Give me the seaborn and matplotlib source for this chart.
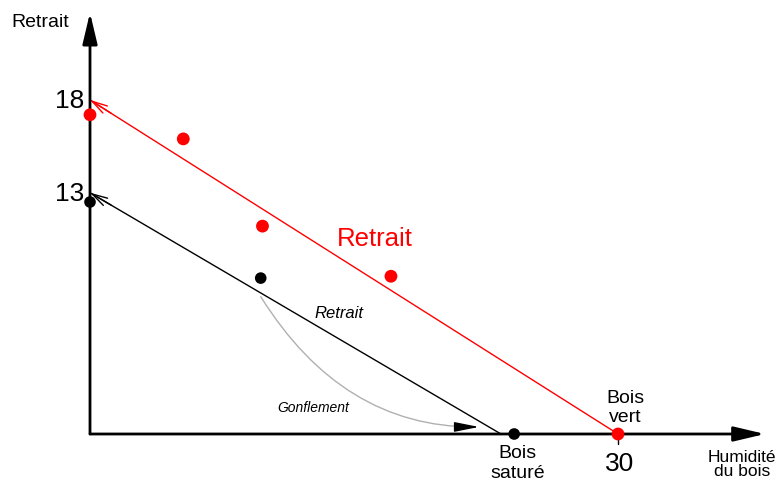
import matplotlib
matplotlib.use("Agg")
import matplotlib.pyplot as plt
import seaborn as sns
import pandas as pd

sns.set_theme(style="white")
plt.rcParams['font.family'] = ['Liberation Sans', 'DejaVu Sans']

# Data
red_x = [0, 5.3, 9.8, 17.1, 30]
red_y = [17.2, 15.9, 11.2, 8.5, 0]
black_x = [0, 9.7, 24.1]
black_y = [12.5, 8.4, 0]
red_line_x = [0, 30]
red_line_y = [18, 0]
black_line_x = [0, 23.35]
black_line_y = [13, 0]
ytick_vals = [18, 13]
xtick_vals = [30]

fig = plt.figure(figsize=(7.8, 4.81), dpi=100)
ax = fig.add_axes([0, 0, 1, 1])
ax.set_xlim(-90 / 17.6, 690 / 17.6)
ax.set_ylim(-46 / 18.56, 435 / 18.56)
ax.axis('off')

# Axes arrows
ax.annotate('', xy=(0, 22.7), xytext=(0, 0),
            arrowprops=dict(arrowstyle='-|>,head_length=1.9,head_width=0.45',
                            color='black', lw=2, shrinkA=0, shrinkB=0, mutation_scale=10))
ax.annotate('', xy=(38.35, 0), xytext=(0, 0),
            arrowprops=dict(arrowstyle='-|>,head_length=1.9,head_width=0.45',
                            color='black', lw=2, shrinkA=0, shrinkB=0, mutation_scale=10))

# Lines
dfr = pd.DataFrame({'x': red_line_x, 'y': red_line_y})
dfb = pd.DataFrame({'x': black_line_x, 'y': black_line_y})
sns.lineplot(data=dfr, x='x', y='y', color='red', lw=1, ax=ax, sort=False)
sns.lineplot(data=dfb, x='x', y='y', color='black', lw=1, ax=ax, sort=False)
# arrowheads at the starts
ax.annotate('', xy=(red_line_x[0], red_line_y[0]), xytext=(red_line_x[0] + 1.2, red_line_y[0] - 0.72),
            arrowprops=dict(arrowstyle='->,head_length=1.1,head_width=0.3', color='red', lw=1,
                            shrinkA=0, shrinkB=0, mutation_scale=10))
ax.annotate('', xy=(black_line_x[0], black_line_y[0]), xytext=(black_line_x[0] + 1.2, black_line_y[0] - 0.668),
            arrowprops=dict(arrowstyle='->,head_length=1.1,head_width=0.3', color='black', lw=1,
                            shrinkA=0, shrinkB=0, mutation_scale=10))

# Tick at 30
ax.plot([30, 30], [0, -0.55], color='black', lw=1)

# Points
sns.scatterplot(x=red_x, y=red_y, color='red', s=85, edgecolor='none', ax=ax, zorder=5)
sns.scatterplot(x=black_x, y=black_y, color='black', s=70, edgecolor='none', ax=ax, zorder=5)

# Gonflement curve
ax.annotate('', xy=(21.8, 0.38), xytext=(9.7, 7.4),
            arrowprops=dict(arrowstyle='-', color='#b0b0b0', lw=1,
                            connectionstyle='angle3,angleA=-58,angleB=0', shrinkA=0, shrinkB=0))
ax.annotate('', xy=(22.1, 0.38), xytext=(21.0, 0.38),
            arrowprops=dict(arrowstyle='-|>,head_length=1.5,head_width=0.3', color='black', lw=1,
                            shrinkA=0, shrinkB=0, mutation_scale=10))

# Texts
ax.text(-4.45, 22.2, 'Retrait', fontsize=14, ha='left', va='center', color='black')
for v in ytick_vals:
    ax.text(-0.35, v, str(v), fontsize=19, ha='right', va='center', color='black')
for v in xtick_vals:
    ax.text(v + 0.1, -1.55, str(v), fontsize=19, ha='center', va='center', color='black')
ax.text(14.0, 10.55, 'Retrait', fontsize=18.5, ha='left', va='center', color='red')
ax.text(12.75, 6.55, 'Retrait', fontsize=12, ha='left', va='center', color='black', style='italic')
ax.text(10.65, 1.45, 'Gonflement', fontsize=10, ha='left', va='center', color='black', style='italic')
ax.text(30.43, 1.45, 'Bois\nvert', fontsize=14, ha='center', va='center', color='black', linespacing=1.2)
ax.text(24.3, -1.55, 'Bois\nsaturé', fontsize=14, ha='center', va='center', color='black', linespacing=1.2)
ax.text(37.05, -1.6, 'Humidité\ndu bois', fontsize=12.5, ha='center', va='center', color='black', linespacing=0.95)

fig.savefig('out.png', dpi=100)
